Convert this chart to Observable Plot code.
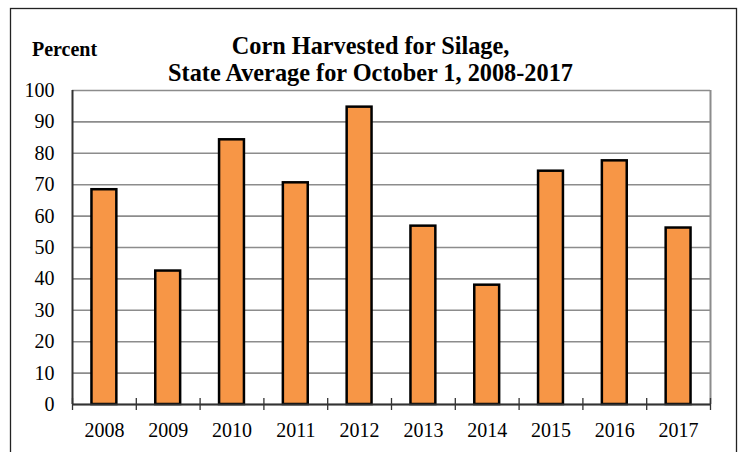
<!DOCTYPE html>
<html><head><meta charset="utf-8">
<script src="https://cdn.jsdelivr.net/npm/d3@7"></script>
<script src="https://cdn.jsdelivr.net/npm/@observablehq/plot@0.6"></script>
<style>body{margin:0;background:#fff;overflow:hidden}</style>
</head><body><div id="chart"></div>
<script>
const years = [2008, 2009, 2010, 2011, 2012, 2013, 2014, 2015, 2016, 2017];
const values = [68.4, 42.5, 84.3, 70.6, 94.7, 56.8, 38.0, 74.3, 77.6, 56.2];
const yTicks = [0, 10, 20, 30, 40, 50, 60, 70, 80, 90, 100];
const titleLines = ["Corn Harvested for Silage,", "State Average for October 1, 2008-2017"];
const yLabel = "Percent";

const data = years.map((year, i) => ({year, value: values[i]}));
const half = 0.195;
const boundaries = d3.range(years.length + 1).map(i => years[0] - 0.5 + i);
const serif = "'Liberation Serif', 'Times New Roman', serif";

const chart = Plot.plot({
  width: 743, height: 452,
  marginTop: 90, marginBottom: 48, marginLeft: 72, marginRight: 33,
  style: {fontFamily: serif, fontSize: "20px", color: "#000", background: "#fff"},
  x: {domain: [boundaries[0], boundaries[boundaries.length - 1]], axis: null},
  y: {domain: [0, 100], axis: null},
  marks: [
    Plot.ruleY(yTicks, {stroke: "#8c8c8c", strokeWidth: 1.6}),
    Plot.ruleX([boundaries[boundaries.length - 1]], {stroke: "#8c8c8c", strokeWidth: 2}),
    Plot.rectY(data, {x1: d => d.year - half, x2: d => d.year + half, y: "value", fill: "#F79646", stroke: "#000", strokeWidth: 2.5}),
    Plot.ruleX([boundaries[0]], {stroke: "#333", strokeWidth: 2}),
    Plot.ruleY([0], {stroke: "#333", strokeWidth: 2}),
    Plot.ruleX(boundaries, {y1: 0, y2: 0, insetTop: -6, insetBottom: -6, stroke: "#333", strokeWidth: 1.3}),
    Plot.axisY({ticks: yTicks, tickSize: 0, tickPadding: 18, fontSize: 20, label: null}),
    Plot.axisX({ticks: years, tickFormat: d => String(d), tickSize: 0, tickPadding: 18, fontSize: 20, label: null}),
    Plot.text([titleLines[0]], {frameAnchor: "top", lineAnchor: "bottom", dx: -21, dy: -37, fontSize: 24.3, fontWeight: "bold"}),
    Plot.text([titleLines[1]], {frameAnchor: "top", lineAnchor: "bottom", dx: -21, dy: -10, fontSize: 24.3, fontWeight: "bold"}),
    Plot.text([yLabel], {frameAnchor: "top-left", lineAnchor: "bottom", textAnchor: "middle", dx: -8, dy: -35, fontSize: 20, fontWeight: "bold"})
  ]
});

d3.select(chart).append("rect")
  .attr("x", 10.5).attr("y", 8.5).attr("width", 726).attr("height", 460)
  .attr("fill", "none").attr("stroke", "#222").attr("stroke-width", 1.3);

document.getElementById("chart").appendChild(chart);
</script>
</body></html>
